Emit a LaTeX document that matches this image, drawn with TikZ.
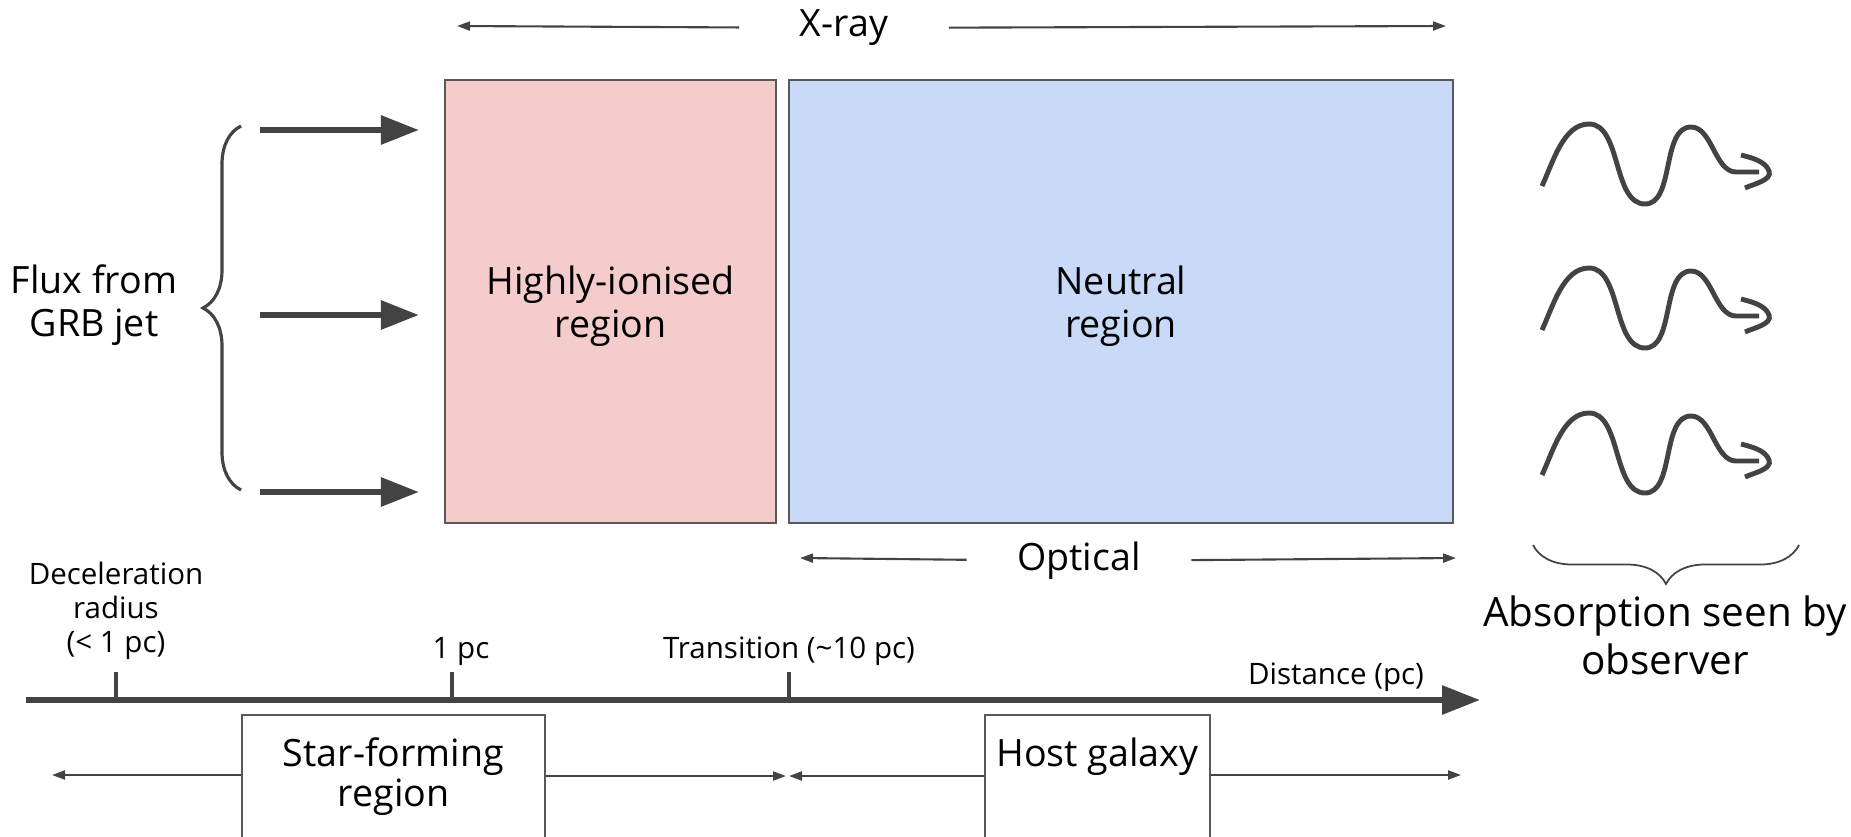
\documentclass[tikz,border=0pt]{standalone}
\usepackage{fontspec}
\setmainfont{Open Sans}
\usetikzlibrary{arrows.meta, decorations.pathreplacing}

\begin{document}
\begin{tikzpicture}[
    bigText/.style={font=\fontsize{10.7}{12.2}\selectfont, align=center},
    smallText/.style={font=\fontsize{8.4}{9.7}\selectfont, align=center},
    region/.style={bigText, draw=borderColour, line width=0.6pt, inner sep=0pt, text depth=0pt},
    scaleBox/.style={font=\fontsize{10.7}{11.4}\selectfont, align=center, draw=borderColour, line width=0.6pt,
        anchor=north, inner ysep=0.23cm, text depth=1cm},
    thinArrow/.style={lineColour, line width=0.6pt, -{Triangle[length=0.13cm, width=0.09cm]}},
    fluxArrow/.style={lineColour, line width=1.7pt, -{Triangle[length=0.38cm, width=0.28cm]}},
    axisLine/.style={lineColour, line width=1.7pt, -{Triangle[length=0.38cm, width=0.28cm]}},
    axisTick/.style={lineColour, line width=1.3pt},
    wave/.style={lineColour, line width=1.4pt, looseness=0.85},
    braceLine/.style={lineColour, line width=0.9pt, decorate},
    thinBrace/.style={lineColour, line width=0.5pt, decorate},
]
    \definecolor{borderColour}{HTML}{595959}
    \definecolor{lineColour}{HTML}{434343}
    \definecolor{fillColourIon}{HTML}{F4CCCC}
    \definecolor{fillColourNeutral}{HTML}{C9DAF8}

    % Canvas
    \useasboundingbox (0,0) rectangle (18.51,8.36);
    \clip (0,0) rectangle (18.51,8.36);

    % Regions
    \node[region, fill=fillColourIon, minimum width=3.31cm, minimum height=4.43cm] (ionised) at (6.105,5.345) {Highly-ionised\\region};
    \node[region, fill=fillColourNeutral, minimum width=6.64cm, minimum height=4.43cm] (neutral) at (11.21,5.345) {Neutral\\region};

    % X-ray band
    \node[bigText, inner xsep=0.6cm] (xray) at (8.44,8.08) {X-ray};
    \coordinate (xrayL) at (4.57,8.10);
    \coordinate (xrayR) at (14.46,8.10);
    \draw[thinArrow] (xray) -- (xrayL);
    \draw[thinArrow] (xray) -- (xrayR);

    % Optical band
    \node[bigText, inner xsep=0.5cm] (optical) at (10.79,2.75) {Optical};
    \coordinate (opticalL) at (8.00,2.78);
    \coordinate (opticalR) at (14.56,2.78);
    \draw[thinArrow] (optical) -- (opticalL);
    \draw[thinArrow] (optical) -- (opticalR);

    % Flux from the jet
    \node[bigText] (flux) at (0.94,5.31) {Flux from\\GRB jet};
    \draw[braceLine, decoration={brace, amplitude=0.38cm}] (2.41,3.46) -- (2.41,7.10);
    \foreach \y [count=\i] in {7.06,5.21,3.44} {
        \coordinate (f\i) at (2.60,\y);
        \draw[fluxArrow, shorten >=0.25cm] (f\i) -- (f\i -| ionised.west);
    }

    % Absorbed light
    \foreach \dy in {0,1.44,2.89} {
        \begin{scope}[yshift=-\dy cm]
            \draw[wave] (15.42,6.50) to[out=65,in=180] (15.89,7.12) to[out=0,in=180] (16.45,6.32)
                to[out=0,in=180] (16.91,7.09) to[out=0,in=180] (17.36,6.64) -- (17.59,6.64);
            \draw[wave] (17.41,6.81) to[out=-15,in=110] (17.69,6.65) to[out=-70,in=25] (17.45,6.48);
        \end{scope}
    }
    \draw[thinBrace, decoration={brace, amplitude=0.39cm}] (17.99,2.91) -- (15.33,2.91);
    \node[font=\fontsize{11.5}{13.6}\selectfont, align=center] (absorption) at (16.65,2.01) {Absorption seen by\\observer};

    % Distance axis
    \coordinate (axisStart) at (0.26,1.36);
    \coordinate (axisEnd) at (14.80,1.36);
    \draw[axisLine] (axisStart) -- (axisEnd);
    \foreach \x/\name in {1.16/decel,4.52/onepc,7.89/trans}
        \draw[axisTick] (\x,1.36) -- (\x,1.64) coordinate (\name);

    \node[smallText, above] (decelLabel) at (decel) {Deceleration\\radius\\(< 1 pc)};
    \node[smallText, above=-0.06cm, xshift=0.09cm] (onepcLabel) at (onepc) {1 pc};
    \node[smallText, above=-0.06cm] (transLabel) at (trans) {Transition (\textasciitilde10 pc)};
    \node[smallText] (distLabel) at (13.36,1.59) {Distance (pc)};

    % Star-forming region and host galaxy
    \node[scaleBox, minimum width=3.03cm] (star) at (3.935,1.22) {Star-forming\\region};
    \node[scaleBox, minimum width=2.23cm] (host) at (10.975,1.22) {Host galaxy};

    \coordinate (edgeL) at (0.52,0.61);
    \coordinate (transL) at (7.86,0.60);
    \coordinate (transR) at (7.89,0.60);
    \coordinate (edgeR) at (14.61,0.61);
    \draw[thinArrow] (star.west |- edgeL) -- (edgeL);
    \draw[thinArrow] (star.east |- transL) -- (transL);
    \draw[thinArrow] (host.west |- transR) -- (transR);
    \draw[thinArrow] (host.east |- edgeR) -- (edgeR);

\end{tikzpicture}
\end{document}
